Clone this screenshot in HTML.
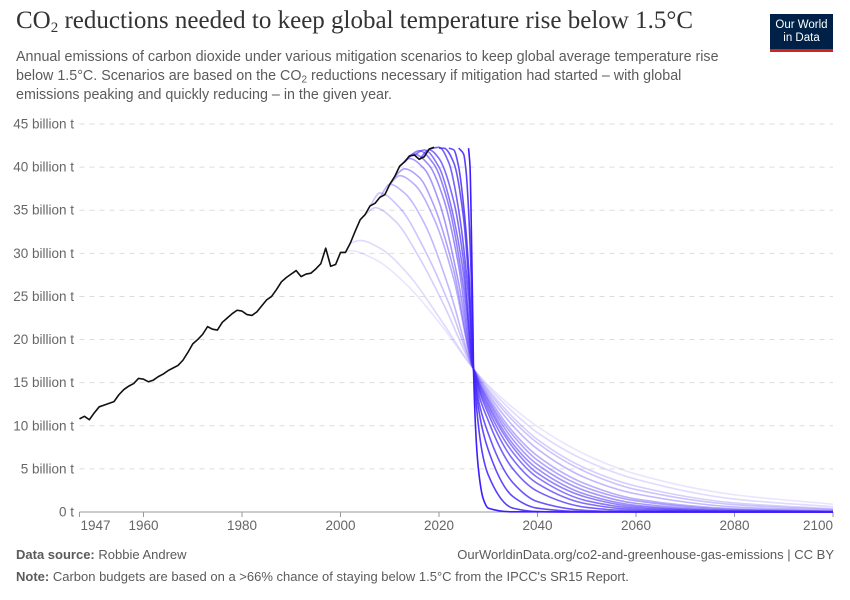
<!DOCTYPE html>
<html><head><meta charset="utf-8">
<style>
body{margin:0;background:#fff;font-family:"Liberation Sans",sans-serif;}
#wrap{position:relative;width:850px;height:600px;overflow:hidden;}
.t{position:absolute;white-space:nowrap;}
sub{line-height:0;vertical-align:-0.25em;}
</style></head>
<body>
<div id="wrap">
<div class="t" style="left:16px;top:7px;font-family:'Liberation Serif',serif;font-size:25px;color:#333;">CO<sub style="font-size:15px">2</sub> reductions needed to keep global temperature rise below 1.5°C</div>
<div class="t" style="left:16px;top:48px;font-size:14.3px;line-height:19px;color:#5b5b5b;">Annual emissions of carbon dioxide under various mitigation scenarios to keep global average temperature rise<br>below 1.5°C. Scenarios are based on the CO<sub style="font-size:10px">2</sub> reductions necessary if mitigation had started – with global<br>emissions peaking and quickly reducing – in the given year.</div>
<div style="position:absolute;left:770px;top:14px;width:63px;height:38px;background:#002147;border-bottom:3px solid #ce261e;box-sizing:border-box;color:#fff;font-size:11.5px;line-height:13px;text-align:center;padding-top:5px;">Our World<br>in Data</div>
<svg id="chart" width="850" height="600" style="position:absolute;left:0;top:0"></svg>
<div class="t" style="left:16px;top:547px;font-size:13px;color:#5b5b5b;"><b>Data source:</b> Robbie Andrew</div>
<div class="t" style="right:16px;top:547px;font-size:13px;color:#5b5b5b;">OurWorldinData.org/co2-and-greenhouse-gas-emissions | CC BY</div>
<div class="t" style="left:16px;top:569px;font-size:13px;color:#5b5b5b;"><b>Note:</b> Carbon budgets are based on a &gt;66% chance of staying below 1.5°C from the IPCC's SR15 Report.</div>
</div>
<script>
const histYears=[1947,1948,1949,1950,1951,1952,1953,1954,1955,1956,1957,1958,1959,1960,1961,1962,1963,1964,1965,1966,1967,1968,1969,1970,1971,1972,1973,1974,1975,1976,1977,1978,1979,1980,1981,1982,1983,1984,1985,1986,1987,1988,1989,1990,1991,1992,1993,1994,1995,1996,1997,1998,1999,2000,2001,2002,2003,2004,2005,2006,2007,2008,2009,2010,2011,2012,2013,2014,2015,2016,2017,2018,2019];
const histValues=[10.8,11.1,10.7,11.5,12.2,12.4,12.6,12.8,13.6,14.2,14.6,14.9,15.5,15.4,15.1,15.3,15.7,16.0,16.4,16.7,17.0,17.6,18.5,19.5,20.0,20.6,21.5,21.2,21.1,22.0,22.5,23.0,23.4,23.3,22.9,22.8,23.2,23.9,24.6,25.0,25.8,26.7,27.2,27.6,28.0,27.3,27.6,27.7,28.2,28.8,30.6,28.5,28.7,30.1,30.1,31.2,32.6,33.9,34.5,35.5,35.8,36.5,36.8,38.0,38.9,40.1,40.6,41.3,41.4,40.9,41.2,42.1,42.3];
const postYears=[2030,2035,2040,2050,2060,2080,2100];
const scenarioStarts=[2000,2002,2005,2006,2008,2010,2011,2012,2013,2014,2015,2016,2018,2020,2022,2024];
const scenarioPreYears=[
[2000,2002,2007,2013,2020,2027],[2002,2004,2008,2014,2020,2027],[2005,2007,2011,2016,2021,2027],[2006,2008,2012,2017,2022,2027],
[2008,2010,2013,2017,2022,2027],[2010,2012,2015,2019,2023,2027],[2011,2013,2016,2019,2023,2027],[2012,2014,2017,2020,2024,2027],
[2013,2015,2018,2021,2024,2027],[2014,2016,2019,2022,2025,2027],[2015,2017,2020,2022,2025,2027],[2016,2018,2020,2023,2025,2027],
[2018,2020,2022,2024,2026,2027],[2020,2021,2023,2025,2026,2027],[2022,2023,2024,2025,2026,2027],[2024,2025,2025.5,2026,2026.5,2027]];
const scenarioPreValues=[
[30.1,30.3,29.3,26.6,22.0,16.6],[31.2,31.5,30.6,27.4,22.6,16.6],[34.5,35.3,33.8,29.5,24.0,16.6],[35.5,37.0,35.3,30.5,24.2,16.6],
[36.5,38.0,37.0,33.5,26.0,16.6],[38.0,39.0,38.0,34.0,27.0,16.6],[38.9,39.8,38.8,35.5,28.0,16.6],[40.1,41.0,39.8,36.0,26.5,16.6],
[40.6,41.5,40.2,36.2,28.5,16.6],[41.3,41.9,40.3,35.5,26.0,16.6],[41.4,42.0,40.0,36.5,27.5,16.6],[40.9,42.0,41.0,36.0,29.0,16.6],
[42.1,42.3,40.5,35.0,25.0,16.6],[42.2,42.2,40.5,34.0,27.0,16.6],[42.2,42.0,40.0,35.5,28.5,16.6],[42.2,41.5,39.5,35.0,28.0,16.6]];
const scenarioPostValues=[
[14.7,12.1,9.9,6.6,4.4,2.0,0.9],[14.5,11.6,9.2,5.9,3.8,1.5,0.6],[14.2,11.0,8.4,5.0,3.0,1.05,0.37],[14.0,10.6,8.0,4.6,2.6,0.85,0.28],
[13.7,10.0,7.3,3.9,2.1,0.59,0.17],[13.4,9.3,6.5,3.2,1.5,0.37,0.09],[13.1,8.9,6.0,2.8,1.3,0.27,0.06],[12.9,8.4,5.5,2.4,1.0,0.18,0.04],
[12.6,7.9,5.0,2.0,0.77,0.12,0.02],[12.3,7.5,4.5,1.7,0.61,0.08,0.01],[11.9,6.9,4.0,1.3,0.44,0.05,0.01],[11.4,6.1,3.3,0.94,0.27,0.02,0],
[10.6,5.0,2.4,0.53,0.12,0.01,0],[9.1,3.4,1.2,0.17,0.02,0,0],[7.2,1.8,0.44,0.03,0,0,0],[4.3,0.45,0.05,0,0,0,0]];
const fastYears=[2026,2026.3,2026.5,2026.7,2026.9,2027,2028,2029,2030,2035,2050,2100];
const fastValues=[42.2,40,35,28,21,16.6,5,1.5,0.45,0.02,0,0];
const yTicks=[0,5,10,15,20,25,30,35,40,45];
const yTickLabels=["0 t","5 billion t","10 billion t","15 billion t","20 billion t","25 billion t","30 billion t","35 billion t","40 billion t","45 billion t"];
const xTicks=[1947,1960,1980,2000,2020,2040,2060,2080,2100];

const NS="http://www.w3.org/2000/svg";
const svg=document.getElementById('chart');
const X0=79.5,X1=833,Y0=512,Y1=124;
const xs=y=>X0+(y-1947)/(2100-1947)*(X1-X0);
const ys=v=>Y0-v/45*(Y0-Y1);
function mk(t,a){const e=document.createElementNS(NS,t);for(const k in a)e.setAttribute(k,a[k]);svg.appendChild(e);return e;}
function monotonePath(px,py){
 const n=px.length;if(n<2)return '';
 const d=[],m=[];
 for(let i=0;i<n-1;i++)d.push((py[i+1]-py[i])/(px[i+1]-px[i]));
 m[0]=d[0];m[n-1]=d[n-2];
 for(let i=1;i<n-1;i++){ if(d[i-1]*d[i]<=0)m[i]=0; else { const h0=px[i]-px[i-1],h1=px[i+1]-px[i]; const w1=2*h1+h0,w2=h1+2*h0; m[i]=(w1+w2)/(w1/d[i-1]+w2/d[i]); } }
 let s='M'+px[0].toFixed(2)+','+py[0].toFixed(2);
 for(let i=0;i<n-1;i++){const h=px[i+1]-px[i];
  s+='C'+(px[i]+h/3).toFixed(2)+','+(py[i]+m[i]*h/3).toFixed(2)+' '+(px[i+1]-h/3).toFixed(2)+','+(py[i+1]-m[i+1]*h/3).toFixed(2)+' '+px[i+1].toFixed(2)+','+py[i+1].toFixed(2);}
 return s;
}
yTicks.forEach((v,i)=>{
 if(v>0){const g=mk('line',{x1:X0,x2:X1,y1:ys(v),y2:ys(v),stroke:'#ddd','stroke-dasharray':'5,5'});
 
 }
 const t=mk('text',{x:74,y:ys(v)+4.5,'text-anchor':'end','font-size':'13.5','fill':'#666','font-family':'Liberation Sans, sans-serif'});
 t.textContent=yTickLabels[i];
 
 
});
const ax=mk('line',{x1:X0,x2:X1,y1:Y0,y2:Y0,stroke:'#999'});


xTicks.forEach((yr,i)=>{
 const tk=mk('line',{x1:xs(yr),x2:xs(yr),y1:Y0,y2:Y0+5,stroke:'#999'});
 
 
 const t=mk('text',{x:i==0?xs(yr)+1:xs(yr),y:Y0+18,'text-anchor':i==0?'start':(i==xTicks.length-1?'end':'middle'),'font-size':'13.5','fill':'#666','font-family':'Liberation Sans, sans-serif'});
 t.textContent=yr;
 
 
});
const N=scenarioStarts.length;
scenarioStarts.forEach((s,i)=>{
 const yrs=scenarioPreYears[i].concat(postYears),vals=scenarioPreValues[i].concat(scenarioPostValues[i]);
 const p=mk('path',{d:monotonePath(yrs.map(xs),vals.map(ys)),fill:'none',stroke:'rgb(70,40,250)','stroke-width':1.6,'stroke-opacity':(0.12+0.83*i/N).toFixed(3)});
 
 
});
const f=mk('path',{d:monotonePath(fastYears.map(xs),fastValues.map(ys)),fill:'none',stroke:'rgb(60,30,255)','stroke-width':1.6});


const h=mk('path',{d:'M'+histYears.map((y,i)=>xs(y).toFixed(2)+','+ys(histValues[i]).toFixed(2)).join('L'),fill:'none',stroke:'#111','stroke-width':1.6,'stroke-linejoin':'round'});


</script>
</body></html>
